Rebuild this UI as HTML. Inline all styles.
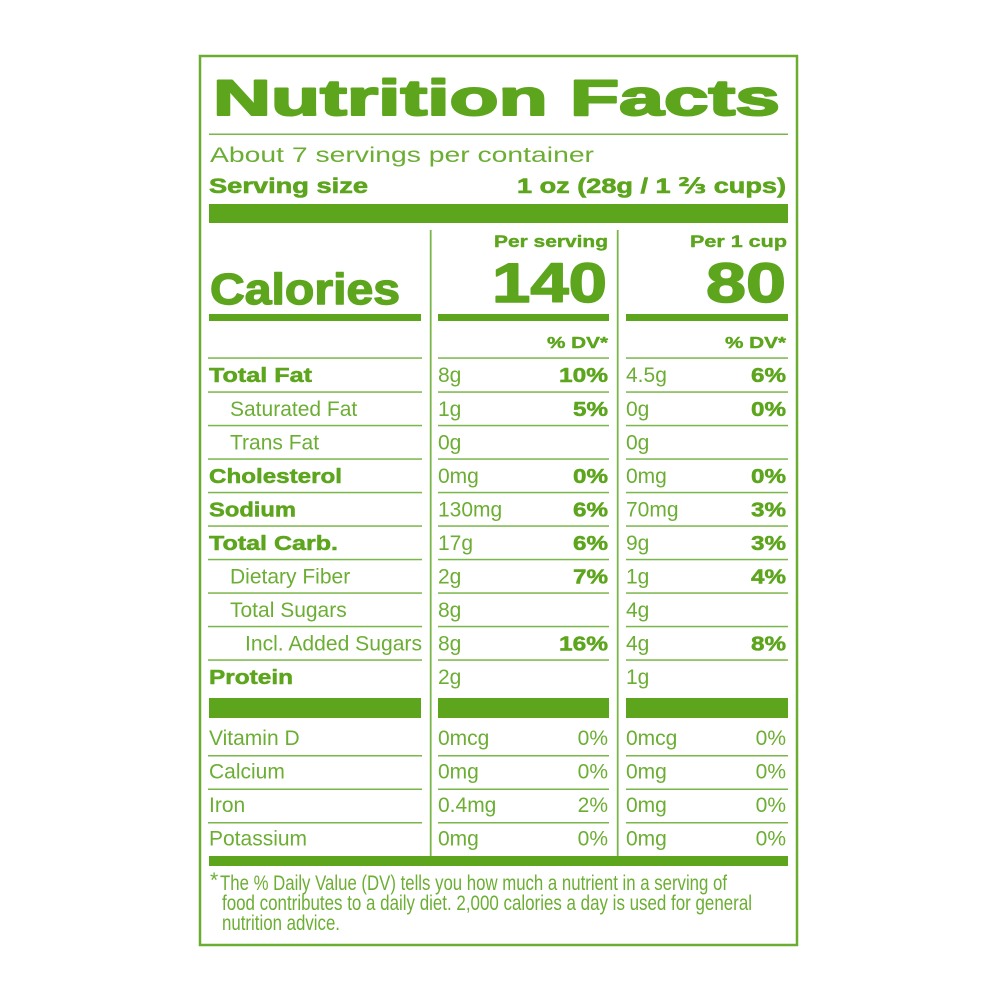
<!DOCTYPE html>
<html>
<head>
<meta charset="utf-8">
<style>
  html,body{margin:0;padding:0;background:#fff;}
  svg{display:block;}
  .b{font-family:"Liberation Sans",Arial,sans-serif;font-weight:bold;fill:#5ca51d;stroke:#5ca51d;stroke-linejoin:round;}
  .r{font-family:"Liberation Sans",Arial,sans-serif;font-weight:normal;fill:#6cae33;font-size:21px;}
  .bs{font-size:20px;stroke-width:0.5;}
  .bar{fill:#5ca51d;}
  .ln{fill:#7ab74a;}
</style>
</head>
<body>
<svg width="1000" height="1000" viewBox="0 0 1000 1000" xmlns="http://www.w3.org/2000/svg">
  <rect x="0" y="0" width="1000" height="1000" fill="#fff"/>
  <!-- outer border -->
  <rect x="200" y="56" width="597" height="889" fill="none" stroke="#6aad30" stroke-width="2.5"/>

  <!-- Title -->
  <text class="b" x="213" y="115" font-size="50" stroke-width="2" textLength="567" lengthAdjust="spacingAndGlyphs">Nutrition Facts</text>
  <rect class="ln" x="209" y="133.5" width="579" height="1.5"/>

  <text class="r" x="210" y="162" font-size="27" textLength="384" lengthAdjust="spacingAndGlyphs">About 7 servings per container</text>
  <text class="b" x="209" y="193" font-size="21" stroke-width="0.6" textLength="159" lengthAdjust="spacingAndGlyphs">Serving size</text>
  <text class="b" x="517" y="193" font-size="21" stroke-width="0.6" textLength="269" lengthAdjust="spacingAndGlyphs">1 oz (28g / 1 <tspan font-family="'DejaVu Sans','Liberation Sans',sans-serif">⅔</tspan> cups)</text>

  <!-- header bar -->
  <rect class="bar" x="209" y="204" width="579" height="19"/>

  <!-- column dividers -->
  <rect class="ln" x="429.8" y="230" width="1.8" height="627"/>
  <rect class="ln" x="616.8" y="230" width="1.8" height="627"/>

  <!-- Calories header -->
  <text class="b" x="494" y="247" font-size="17" stroke-width="0.4" textLength="114" lengthAdjust="spacingAndGlyphs">Per serving</text>
  <text class="b" x="690" y="247" font-size="17" stroke-width="0.4" textLength="97" lengthAdjust="spacingAndGlyphs">Per 1 cup</text>
  <text class="b" x="210" y="304" font-size="44" stroke-width="1.4" textLength="190" lengthAdjust="spacingAndGlyphs">Calories</text>
  <text class="b" x="492" y="302" font-size="56" stroke-width="1.5" textLength="115" lengthAdjust="spacingAndGlyphs">140</text>
  <text class="b" x="706" y="302" font-size="56" stroke-width="1.5" textLength="80" lengthAdjust="spacingAndGlyphs">80</text>

  <rect class="bar" x="209" y="314" width="212" height="7"/>
  <rect class="bar" x="438" y="314" width="171" height="7"/>
  <rect class="bar" x="626" y="314" width="162" height="7"/>

  <text class="b" x="547" y="348" font-size="16" stroke-width="0.4" textLength="61" lengthAdjust="spacingAndGlyphs">% DV*</text>
  <text class="b" x="725" y="348" font-size="16" stroke-width="0.4" textLength="61" lengthAdjust="spacingAndGlyphs">% DV*</text>

  <!-- row lines (top section) -->
  <g class="ln">
    <rect x="208" y="357.3" width="214" height="1.5"/><rect x="438" y="357.3" width="171" height="1.5"/><rect x="626" y="357.3" width="162" height="1.5"/>
    <rect x="208" y="391.3" width="214" height="1.5"/><rect x="438" y="391.3" width="171" height="1.5"/><rect x="626" y="391.3" width="162" height="1.5"/>
    <rect x="208" y="424.8" width="214" height="1.5"/><rect x="438" y="424.8" width="171" height="1.5"/><rect x="626" y="424.8" width="162" height="1.5"/>
    <rect x="208" y="458.3" width="214" height="1.5"/><rect x="438" y="458.3" width="171" height="1.5"/><rect x="626" y="458.3" width="162" height="1.5"/>
    <rect x="208" y="491.8" width="214" height="1.5"/><rect x="438" y="491.8" width="171" height="1.5"/><rect x="626" y="491.8" width="162" height="1.5"/>
    <rect x="208" y="525.3" width="214" height="1.5"/><rect x="438" y="525.3" width="171" height="1.5"/><rect x="626" y="525.3" width="162" height="1.5"/>
    <rect x="208" y="558.8" width="214" height="1.5"/><rect x="438" y="558.8" width="171" height="1.5"/><rect x="626" y="558.8" width="162" height="1.5"/>
    <rect x="208" y="592.3" width="214" height="1.5"/><rect x="438" y="592.3" width="171" height="1.5"/><rect x="626" y="592.3" width="162" height="1.5"/>
    <rect x="208" y="625.8" width="214" height="1.5"/><rect x="438" y="625.8" width="171" height="1.5"/><rect x="626" y="625.8" width="162" height="1.5"/>
    <rect x="208" y="659.3" width="214" height="1.5"/><rect x="438" y="659.3" width="171" height="1.5"/><rect x="626" y="659.3" width="162" height="1.5"/>
    <!-- vitamin section -->
    <rect x="208" y="755" width="214" height="1.5"/><rect x="438" y="755" width="171" height="1.5"/><rect x="626" y="755" width="162" height="1.5"/>
    <rect x="208" y="788.5" width="214" height="1.5"/><rect x="438" y="788.5" width="171" height="1.5"/><rect x="626" y="788.5" width="162" height="1.5"/>
    <rect x="208" y="822" width="214" height="1.5"/><rect x="438" y="822" width="171" height="1.5"/><rect x="626" y="822" width="162" height="1.5"/>
  </g>

  <!-- Left labels -->
  <text class="b bs" x="209" y="382" textLength="103" lengthAdjust="spacingAndGlyphs">Total Fat</text>
  <text class="r" x="230" y="416">Saturated Fat</text>
  <text class="r" x="230" y="449.5">Trans Fat</text>
  <text class="b bs" x="209" y="483" textLength="133" lengthAdjust="spacingAndGlyphs">Cholesterol</text>
  <text class="b bs" x="209" y="516.5" textLength="87" lengthAdjust="spacingAndGlyphs">Sodium</text>
  <text class="b bs" x="209" y="550" textLength="129" lengthAdjust="spacingAndGlyphs">Total Carb.</text>
  <text class="r" x="230" y="583.5">Dietary Fiber</text>
  <text class="r" x="230" y="617">Total Sugars</text>
  <text class="r" x="245" y="650.5" textLength="177" lengthAdjust="spacingAndGlyphs">Incl. Added Sugars</text>
  <text class="b bs" x="209" y="684" textLength="84" lengthAdjust="spacingAndGlyphs">Protein</text>

  <!-- Col 2 values -->
  <text class="r" x="438" y="382">8g</text>
  <text class="r" x="438" y="416">1g</text>
  <text class="r" x="438" y="449.5">0g</text>
  <text class="r" x="438" y="483">0mg</text>
  <text class="r" x="438" y="516.5">130mg</text>
  <text class="r" x="438" y="550">17g</text>
  <text class="r" x="438" y="583.5">2g</text>
  <text class="r" x="438" y="617">8g</text>
  <text class="r" x="438" y="650.5">8g</text>
  <text class="r" x="438" y="684">2g</text>

  <!-- Col 2 % -->
  <text class="b bs" x="559" y="382" textLength="49" lengthAdjust="spacingAndGlyphs">10%</text>
  <text class="b bs" x="573" y="416" textLength="35" lengthAdjust="spacingAndGlyphs">5%</text>
  <text class="b bs" x="573" y="483" textLength="35" lengthAdjust="spacingAndGlyphs">0%</text>
  <text class="b bs" x="573" y="516.5" textLength="35" lengthAdjust="spacingAndGlyphs">6%</text>
  <text class="b bs" x="573" y="550" textLength="35" lengthAdjust="spacingAndGlyphs">6%</text>
  <text class="b bs" x="573" y="583.5" textLength="35" lengthAdjust="spacingAndGlyphs">7%</text>
  <text class="b bs" x="559" y="650.5" textLength="49" lengthAdjust="spacingAndGlyphs">16%</text>

  <!-- Col 3 values -->
  <text class="r" x="626" y="382">4.5g</text>
  <text class="r" x="626" y="416">0g</text>
  <text class="r" x="626" y="449.5">0g</text>
  <text class="r" x="626" y="483">0mg</text>
  <text class="r" x="626" y="516.5">70mg</text>
  <text class="r" x="626" y="550">9g</text>
  <text class="r" x="626" y="583.5">1g</text>
  <text class="r" x="626" y="617">4g</text>
  <text class="r" x="626" y="650.5">4g</text>
  <text class="r" x="626" y="684">1g</text>

  <!-- Col 3 % -->
  <text class="b bs" x="751" y="382" textLength="35" lengthAdjust="spacingAndGlyphs">6%</text>
  <text class="b bs" x="751" y="416" textLength="35" lengthAdjust="spacingAndGlyphs">0%</text>
  <text class="b bs" x="751" y="483" textLength="35" lengthAdjust="spacingAndGlyphs">0%</text>
  <text class="b bs" x="751" y="516.5" textLength="35" lengthAdjust="spacingAndGlyphs">3%</text>
  <text class="b bs" x="751" y="550" textLength="35" lengthAdjust="spacingAndGlyphs">3%</text>
  <text class="b bs" x="751" y="583.5" textLength="35" lengthAdjust="spacingAndGlyphs">4%</text>
  <text class="b bs" x="751" y="650.5" textLength="35" lengthAdjust="spacingAndGlyphs">8%</text>

  <!-- vitamin bar -->
  <rect class="bar" x="209" y="698" width="212" height="20"/>
  <rect class="bar" x="438" y="698" width="171" height="20"/>
  <rect class="bar" x="626" y="698" width="162" height="20"/>

  <!-- Vitamins -->
  <text class="r" x="209" y="745">Vitamin D</text>
  <text class="r" x="209" y="778.5">Calcium</text>
  <text class="r" x="209" y="812">Iron</text>
  <text class="r" x="209" y="845.5">Potassium</text>

  <text class="r" x="438" y="745">0mcg</text>
  <text class="r" x="438" y="778.5">0mg</text>
  <text class="r" x="438" y="812">0.4mg</text>
  <text class="r" x="438" y="845.5">0mg</text>
  <text class="r" x="608" y="745" text-anchor="end">0%</text>
  <text class="r" x="608" y="778.5" text-anchor="end">0%</text>
  <text class="r" x="608" y="812" text-anchor="end">2%</text>
  <text class="r" x="608" y="845.5" text-anchor="end">0%</text>

  <text class="r" x="626" y="745">0mcg</text>
  <text class="r" x="626" y="778.5">0mg</text>
  <text class="r" x="626" y="812">0mg</text>
  <text class="r" x="626" y="845.5">0mg</text>
  <text class="r" x="786" y="745" text-anchor="end">0%</text>
  <text class="r" x="786" y="778.5" text-anchor="end">0%</text>
  <text class="r" x="786" y="812" text-anchor="end">0%</text>
  <text class="r" x="786" y="845.5" text-anchor="end">0%</text>

  <!-- bottom bar -->
  <rect class="bar" x="209" y="856" width="579" height="10"/>

  <!-- Footnote -->
  <text class="r" x="210" y="887" font-size="11">*</text>
  <text class="r" x="220" y="890" font-size="14" textLength="507" lengthAdjust="spacingAndGlyphs">The % Daily Value (DV) tells you how much a nutrient in a serving of</text>
  <text class="r" x="222" y="910" font-size="14" textLength="530" lengthAdjust="spacingAndGlyphs">food contributes to a daily diet. 2,000 calories a day is used for general</text>
  <text class="r" x="222" y="930" font-size="14" textLength="118" lengthAdjust="spacingAndGlyphs">nutrition advice.</text>
</svg>
</body>
</html>
